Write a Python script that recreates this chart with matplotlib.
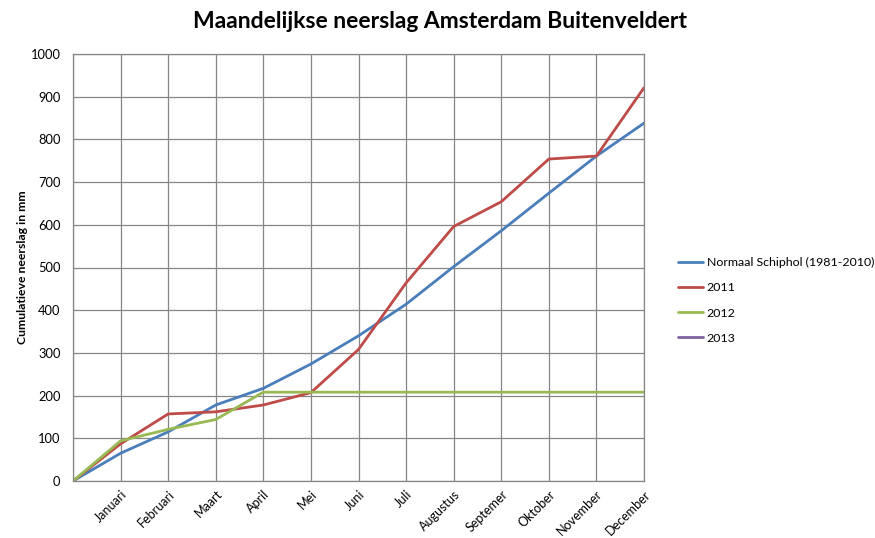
import matplotlib
matplotlib.use("Agg")
import matplotlib.pyplot as plt
import numpy as np

plt.rcParams['font.family'] = ['Lato', 'DejaVu Sans']

categories = ["", "Januari", "Februari", "Maart", "April", "Mei", "Juni", "Juli",
              "Augustus", "Septemer", "Oktober", "November", "December"]
normaal = [0, 65, 115, 178, 217, 274, 340, 414, 502, 586, 674, 761, 838]
y2011 = [0, 87, 157, 162, 178, 207, 308, 464, 596, 654, 754, 761, 921]
y2012 = [0, 94, 121, 144, 208, 208, 208, 208, 208, 208, 208, 208, 208]
y2013 = [np.nan] * 13
series_names = ["Normaal Schiphol (1981-2010)", "2011", "2012", "2013"]
yticks = list(range(0, 1001, 100))

colors = ["#4A7EBB", "#BE4B48", "#98B954", "#7D60A0"]

fig = plt.figure(figsize=(8.75, 5.38), dpi=100)
ax = fig.add_axes([73/875, 1 - 481/538, (644-73)/875, (481-54)/538])

x = np.arange(len(categories))
for data, name, c in zip([normaal, y2011, y2012, y2013], series_names, colors):
    ax.plot(x, data, color=c, lw=2.0, label=name, solid_capstyle='round')

ax.set_xlim(0, len(categories) - 1)
ax.set_ylim(0, 1000)
ax.set_yticks(yticks)
ax.set_yticklabels([str(v) for v in yticks], fontsize=9.3)
ax.set_xticks(x)
ax.set_xticklabels(categories, rotation=45, ha='right', va='top', fontsize=9,
                   rotation_mode='anchor')
ax.tick_params(axis='y', length=0, pad=9)
ax.tick_params(axis='x', length=0, pad=5)
ax.grid(True, color="#868686", lw=0.9)
ax.set_axisbelow(True)
for s in ax.spines.values():
    s.set_color("#868686")
    s.set_linewidth(0.9)

ax.set_ylabel("Cumulatieve neerslag in mm", fontsize=8.8, fontweight='bold', labelpad=2)

fig.text(440/875, 1 - 22/538, "Maandelijkse neerslag Amsterdam Buitenveldert",
         ha='center', va='center', fontsize=16.5, fontweight='bold')

leg = fig.legend(loc='upper left', bbox_to_anchor=(667/875, 1 - 246/538), frameon=False,
                 fontsize=8.9, handlelength=2.0, labelspacing=1.15, handletextpad=0.3)

fig.savefig("out.png", dpi=100)
